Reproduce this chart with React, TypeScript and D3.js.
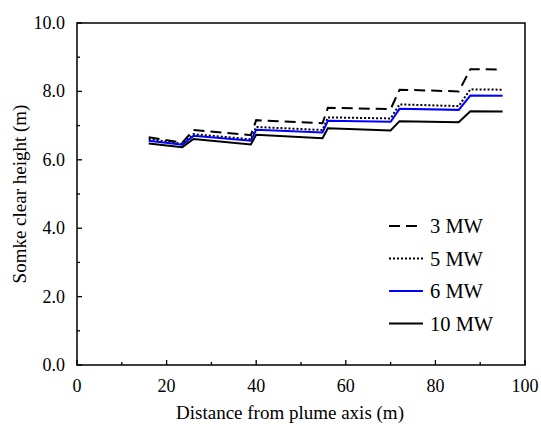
import React from "react";
import * as d3 from "d3";

const distances = [16, 23.5, 26, 38.8, 40, 54.8, 56, 70, 72, 85.2, 87.8, 95];
const mw3 = [6.66, 6.5, 6.87, 6.72, 7.16, 7.07, 7.52, 7.48, 8.05, 8.0, 8.65, 8.64];
const mw5 = [6.61, 6.47, 6.75, 6.6, 6.96, 6.87, 7.24, 7.21, 7.62, 7.57, 8.06, 8.05];
const mw6 = [6.56, 6.44, 6.7, 6.56, 6.88, 6.8, 7.14, 7.11, 7.49, 7.46, 7.88, 7.87];
const mw10 = [6.48, 6.37, 6.61, 6.45, 6.73, 6.63, 6.92, 6.86, 7.13, 7.1, 7.42, 7.41];
const seriesNames = ["3 MW", "5 MW", "6 MW", "10 MW"];
const xTicks = [0, 20, 40, 60, 80, 100];
const xMinor = [10, 30, 50, 70, 90];
const yTicks = [0, 2, 4, 6, 8, 10];
const yMinor = [1, 3, 5, 7, 9];

const W = 541, H = 424;
const L = 77, R = 525, T = 23, B = 365;
const FONT = "'Times New Roman', Times, 'Liberation Serif', 'DejaVu Serif', serif";

export default function App() {
  const x = d3.scaleLinear().domain([0, 100]).range([L, R]);
  const y = d3.scaleLinear().domain([0, 10]).range([B, T]);
  const line = d3.line<[number, number]>().x(d => x(d[0])).y(d => y(d[1]));
  const all = [mw3, mw5, mw6, mw10];
  const styles = [
    { stroke: "#000", dash: "11,6" },
    { stroke: "#000", dash: "2,2" },
    { stroke: "#0000ff", dash: undefined },
    { stroke: "#000", dash: undefined },
  ];
  return (
    <svg width={W} height={H} style={{ position: "absolute", left: 0, top: 0, background: "#fff", fontFamily: FONT }}>
      <rect x={0} y={0} width={W} height={H} fill="#fff" />
      {all.map((s, i) => (
        <path key={i} d={line(distances.map((d, j) => [d, s[j]] as [number, number])) || ""}
          fill="none" stroke={styles[i].stroke} strokeWidth={2} strokeDasharray={styles[i].dash} />
      ))}
      <rect x={L} y={T} width={R - L} height={B - T} fill="none" stroke="#000" strokeWidth={1.5} />
      {xTicks.map(t => (
        <g key={"x" + t}>
          <line x1={x(t)} x2={x(t)} y1={B} y2={B - 5} stroke="#000" strokeWidth={1.3} />
          <text x={x(t)} y={392} textAnchor="middle" style={{ fontFamily: FONT }} fontSize={18}>{t}</text>
        </g>
      ))}
      {xMinor.map(t => (
        <line key={"xm" + t} x1={x(t)} x2={x(t)} y1={B} y2={B - 3} stroke="#000" strokeWidth={1.3} />
      ))}
      {yTicks.map(t => (
        <g key={"y" + t}>
          <line x1={L} x2={L + 5} y1={y(t)} y2={y(t)} stroke="#000" strokeWidth={1.3} />
          <text x={65} y={y(t) + 6} textAnchor="end" style={{ fontFamily: FONT }} fontSize={18}>{t.toFixed(1)}</text>
        </g>
      ))}
      {yMinor.map(t => (
        <line key={"ym" + t} x1={L} x2={L + 3} y1={y(t)} y2={y(t)} stroke="#000" strokeWidth={1.3} />
      ))}
      <text x={290} y={419} textAnchor="middle" style={{ fontFamily: FONT }} fontSize={19}>Distance from plume axis (m)</text>
      <text transform={`translate(26,${(T + B) / 2}) rotate(-90)`} textAnchor="middle" style={{ fontFamily: FONT }} fontSize={19}>Somke clear height (m)</text>
      {seriesNames.map((n, i) => {
        const ly = 226 + i * 32.5;
        return (
          <g key={n}>
            <line x1={389} x2={423} y1={ly} y2={ly} stroke={styles[i].stroke} strokeWidth={2} strokeDasharray={styles[i].dash} />
            <text x={430} y={ly + 7} style={{ fontFamily: FONT }} fontSize={20.5}>{n}</text>
          </g>
        );
      })}
    </svg>
  );
}
